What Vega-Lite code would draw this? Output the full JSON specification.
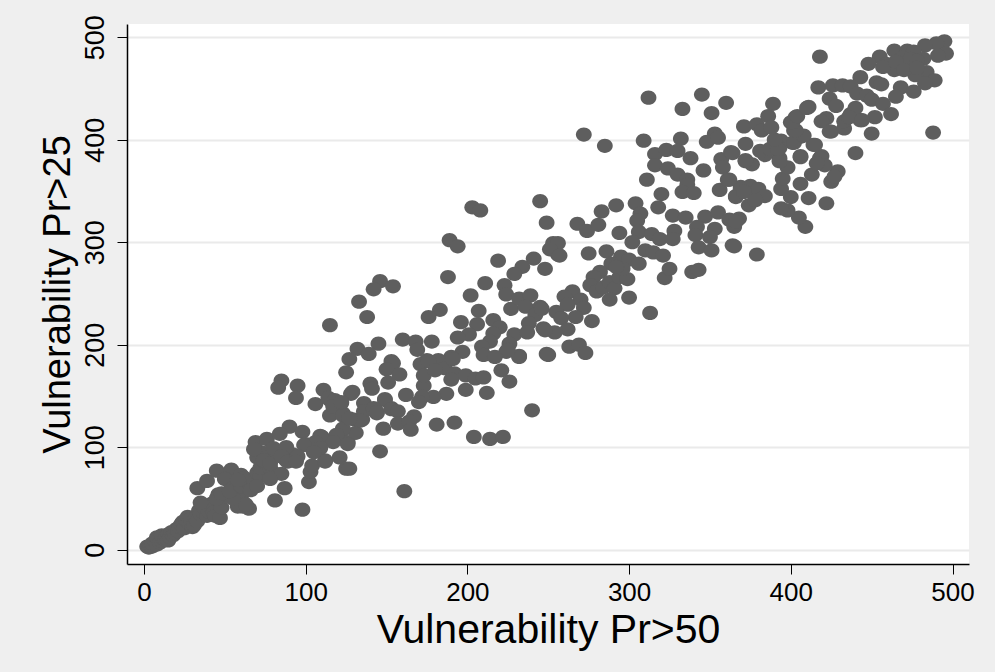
{"$schema":"https://vega.github.io/schema/vega-lite/v6.json","autosize":{"type":"none"},"width":842,"height":540,"padding":{"left":127,"top":24,"right":26,"bottom":108},"background":"#efefef","view":{"fill":"#ffffff","stroke":null},"config":{"font":"Liberation Sans"},
"data":{"values":[
{"x":2,"y":3},{"x":3,"y":2},{"x":4,"y":4},{"x":5,"y":3},{"x":6,"y":5},{"x":5,"y":6},{"x":7,"y":8},{"x":8,"y":5},{"x":9,"y":10},{"x":8,"y":12},{"x":10,"y":7},{"x":11,"y":9},{"x":12,"y":11},{"x":11,"y":14},{"x":13,"y":10},{"x":14,"y":13},{"x":15,"y":15},{"x":15,"y":9},{"x":16,"y":12},{"x":17,"y":17},{"x":18,"y":14},{"x":19,"y":16},{"x":20,"y":20},{"x":21,"y":18},{"x":22,"y":22},{"x":23,"y":25},{"x":24,"y":27},{"x":25,"y":21},{"x":26,"y":29},{"x":27,"y":32},{"x":28,"y":26},{"x":29,"y":30},{"x":30,"y":22},{"x":31,"y":24},{"x":32,"y":31},{"x":33,"y":28},{"x":34,"y":38},{"x":35,"y":35},{"x":36,"y":44},{"x":37,"y":36},{"x":38,"y":40},{"x":39,"y":33},{"x":40,"y":37},{"x":41,"y":42},{"x":42,"y":45},{"x":43,"y":36},{"x":44,"y":33},{"x":47,"y":31},{"x":48,"y":41},{"x":50,"y":52},{"x":46,"y":54},{"x":47,"y":53},{"x":33,"y":60},{"x":39,"y":67},{"x":45,"y":77},{"x":54,"y":78},{"x":35,"y":46},{"x":50,"y":69},{"x":60,"y":73},{"x":61,"y":42},{"x":55,"y":60},{"x":57,"y":55},{"x":60,"y":50},{"x":62,"y":45},{"x":58,"y":42},{"x":65,"y":40},{"x":63,"y":44},{"x":55,"y":50},{"x":45,"y":50},{"x":48,"y":55},{"x":53,"y":57},{"x":60,"y":62},{"x":65,"y":65},{"x":62,"y":70},{"x":68,"y":68},{"x":70,"y":75},{"x":72,"y":72},{"x":66,"y":58},{"x":70,"y":62},{"x":58,"y":68},{"x":72,"y":80},{"x":75,"y":85},{"x":78,"y":80},{"x":80,"y":75},{"x":85,"y":74},{"x":78,"y":69},{"x":76,"y":90},{"x":73,"y":95},{"x":70,"y":90},{"x":88,"y":92},{"x":92,"y":93},{"x":81,"y":48},{"x":87,"y":60},{"x":98,"y":39},{"x":102,"y":66},{"x":103,"y":76},{"x":104,"y":82},
{"x":69,"y":105},{"x":76,"y":108},{"x":68,"y":98},{"x":80,"y":99},{"x":88,"y":100},{"x":90,"y":120},{"x":84,"y":113},{"x":98,"y":115},{"x":88,"y":87},{"x":94,"y":88},{"x":100,"y":103},{"x":110,"y":110},{"x":107,"y":99},{"x":112,"y":87},{"x":121,"y":90},{"x":125,"y":79},{"x":117,"y":107},{"x":123,"y":117},{"x":126,"y":105},{"x":106,"y":142},{"x":111,"y":156},{"x":115,"y":146},{"x":119,"y":143},{"x":115,"y":131},{"x":123,"y":133},{"x":128,"y":152},{"x":85,"y":165},{"x":83,"y":158},{"x":95,"y":160},{"x":94,"y":148},{"x":114,"y":148},{"x":118,"y":146},{"x":122,"y":143},{"x":117,"y":140},{"x":123,"y":131},{"x":130,"y":127},{"x":135,"y":127},{"x":136,"y":143},{"x":143,"y":137},{"x":149,"y":146},{"x":153,"y":138},{"x":144,"y":133},{"x":148,"y":118},{"x":131,"y":114},{"x":123,"y":118},{"x":119,"y":112},{"x":117,"y":105},{"x":126,"y":103},{"x":109,"y":111},{"x":106,"y":105},{"x":109,"y":99},{"x":146,"y":96},{"x":112,"y":86},{"x":127,"y":79},{"x":99,"y":102},{"x":74,"y":87},{"x":78,"y":84},{"x":85,"y":91},{"x":89,"y":86},{"x":95,"y":91},{"x":105,"y":95},{"x":94,"y":86},
{"x":203,"y":334},{"x":208,"y":331},{"x":245,"y":340},{"x":249,"y":319},{"x":189,"y":302},{"x":194,"y":296},{"x":219,"y":282},{"x":241,"y":284},{"x":234,"y":276},{"x":229,"y":269},{"x":248,"y":274},{"x":188,"y":266},{"x":211,"y":260},{"x":223,"y":258},{"x":224,"y":249},{"x":146,"y":262},{"x":142,"y":254},{"x":154,"y":257},{"x":133,"y":242},{"x":138,"y":227},{"x":115,"y":219},{"x":202,"y":248},{"x":183,"y":234},{"x":176,"y":227},{"x":207,"y":233},{"x":196,"y":222},{"x":206,"y":220},{"x":216,"y":224},{"x":220,"y":217},{"x":227,"y":235},{"x":232,"y":245},{"x":239,"y":248},{"x":236,"y":237},{"x":245,"y":237},{"x":242,"y":229},{"x":238,"y":221},{"x":247,"y":216},{"x":229,"y":210},{"x":237,"y":212},{"x":216,"y":211},{"x":214,"y":203},{"x":201,"y":210},{"x":194,"y":207},{"x":209,"y":198},{"x":226,"y":201},{"x":224,"y":193},{"x":145,"y":201},{"x":132,"y":196},{"x":139,"y":191},{"x":160,"y":205},{"x":168,"y":203},{"x":169,"y":195},{"x":178,"y":203},{"x":197,"y":193},{"x":190,"y":188},{"x":175,"y":185},{"x":182,"y":185},{"x":153,"y":184},{"x":127,"y":186},{"x":232,"y":189},{"x":249,"y":191},{"x":210,"y":190},{"x":217,"y":188},
{"x":312,"y":441},{"x":333,"y":430},{"x":345,"y":444},{"x":351,"y":426},{"x":360,"y":436},{"x":371,"y":413},{"x":379,"y":415},{"x":272,"y":405},{"x":285,"y":394},{"x":309,"y":399},{"x":332,"y":401},{"x":353,"y":406},{"x":348,"y":398},{"x":355,"y":402},{"x":372,"y":396},{"x":316,"y":386},{"x":323,"y":390},{"x":330,"y":389},{"x":338,"y":382},{"x":316,"y":375},{"x":324,"y":372},{"x":330,"y":366},{"x":336,"y":361},{"x":336,"y":356},{"x":333,"y":349},{"x":340,"y":348},{"x":346,"y":370},{"x":357,"y":381},{"x":363,"y":388},{"x":358,"y":373},{"x":372,"y":379},{"x":376,"y":376},{"x":311,"y":361},{"x":320,"y":347},{"x":318,"y":334},{"x":304,"y":338},{"x":292,"y":336},{"x":283,"y":330},{"x":307,"y":328},{"x":305,"y":321},{"x":268,"y":318},{"x":274,"y":311},{"x":281,"y":317},{"x":294,"y":309},{"x":306,"y":310},{"x":314,"y":308},{"x":319,"y":303},{"x":328,"y":311},{"x":327,"y":303},{"x":302,"y":300},{"x":310,"y":292},{"x":315,"y":290},{"x":321,"y":287},{"x":295,"y":286},{"x":286,"y":291},{"x":275,"y":289},{"x":253,"y":299},{"x":256,"y":288},{"x":327,"y":326},{"x":335,"y":324},{"x":347,"y":325},{"x":355,"y":329},{"x":368,"y":323},{"x":362,"y":322},{"x":365,"y":315},{"x":342,"y":315},{"x":341,"y":307},{"x":353,"y":313},{"x":350,"y":305},{"x":343,"y":295},{"x":351,"y":292},{"x":364,"y":297},{"x":379,"y":288},{"x":356,"y":351},{"x":361,"y":361},{"x":366,"y":345},{"x":369,"y":354},{"x":375,"y":355},{"x":374,"y":336},{"x":379,"y":347},
{"x":418,"y":481},{"x":488,"y":407},{"x":450,"y":406},{"x":440,"y":387},{"x":495,"y":496},{"x":490,"y":494},{"x":483,"y":492},{"x":496,"y":484},{"x":491,"y":482},{"x":464,"y":487},{"x":472,"y":487},{"x":476,"y":486},{"x":455,"y":481},{"x":448,"y":474},{"x":459,"y":474},{"x":464,"y":468},{"x":457,"y":471},{"x":473,"y":471},{"x":482,"y":479},{"x":484,"y":466},{"x":477,"y":463},{"x":489,"y":458},{"x":483,"y":455},{"x":469,"y":480},{"x":474,"y":479},{"x":478,"y":477},{"x":465,"y":476},{"x":470,"y":468},{"x":478,"y":470},{"x":443,"y":461},{"x":453,"y":456},{"x":456,"y":454},{"x":468,"y":451},{"x":465,"y":442},{"x":476,"y":447},{"x":417,"y":451},{"x":426,"y":453},{"x":432,"y":453},{"x":437,"y":452},{"x":441,"y":445},{"x":447,"y":443},{"x":450,"y":439},{"x":424,"y":440},{"x":428,"y":433},{"x":411,"y":432},{"x":457,"y":435},{"x":462,"y":425},{"x":452,"y":422},{"x":443,"y":419},{"x":403,"y":422},{"x":400,"y":417},{"x":402,"y":409},{"x":406,"y":403},{"x":401,"y":397},{"x":414,"y":395},{"x":422,"y":421},{"x":419,"y":418},{"x":425,"y":408},{"x":433,"y":411},{"x":437,"y":425},{"x":433,"y":418},{"x":440,"y":431},{"x":406,"y":384},{"x":419,"y":384},{"x":394,"y":399},{"x":393,"y":392},{"x":393,"y":382},
{"x":125,"y":173},{"x":154,"y":182},{"x":150,"y":176},{"x":158,"y":171},{"x":151,"y":163},{"x":140,"y":162},{"x":141,"y":157},{"x":129,"y":154},{"x":162,"y":151},{"x":173,"y":160},{"x":171,"y":181},{"x":176,"y":184},{"x":186,"y":177},{"x":173,"y":170},{"x":180,"y":175},{"x":191,"y":186},{"x":192,"y":172},{"x":190,"y":166},{"x":199,"y":170},{"x":205,"y":167},{"x":210,"y":168},{"x":199,"y":156},{"x":187,"y":152},{"x":179,"y":149},{"x":172,"y":149},{"x":170,"y":144},{"x":212,"y":153},{"x":226,"y":164},{"x":221,"y":175},{"x":232,"y":188},{"x":225,"y":195},{"x":240,"y":136},{"x":192,"y":124},{"x":181,"y":122},{"x":204,"y":110},{"x":214,"y":108},{"x":222,"y":110},{"x":161,"y":57},{"x":149,"y":147},{"x":136,"y":135},{"x":142,"y":138},{"x":144,"y":134},{"x":153,"y":137},{"x":157,"y":135},{"x":167,"y":130},{"x":157,"y":123},{"x":164,"y":125},{"x":165,"y":117},{"x":134,"y":126},{"x":127,"y":128},{"x":122,"y":144},
{"x":256,"y":299},{"x":251,"y":293},{"x":257,"y":287},{"x":300,"y":283},{"x":306,"y":279},{"x":289,"y":279},{"x":282,"y":271},{"x":278,"y":266},{"x":276,"y":258},{"x":280,"y":252},{"x":284,"y":256},{"x":288,"y":261},{"x":291,"y":255},{"x":294,"y":266},{"x":299,"y":264},{"x":296,"y":274},{"x":292,"y":276},{"x":288,"y":244},{"x":300,"y":246},{"x":313,"y":231},{"x":322,"y":265},{"x":325,"y":274},{"x":339,"y":271},{"x":343,"y":273},{"x":265,"y":252},{"x":260,"y":247},{"x":270,"y":244},{"x":272,"y":236},{"x":262,"y":239},{"x":267,"y":227},{"x":277,"y":223},{"x":255,"y":232},{"x":258,"y":226},{"x":246,"y":235},{"x":262,"y":215},{"x":254,"y":212},{"x":248,"y":214},{"x":263,"y":198},{"x":269,"y":200},{"x":273,"y":192},{"x":250,"y":190},
{"x":365,"y":296},{"x":409,"y":315},{"x":405,"y":324},{"x":398,"y":331},{"x":394,"y":333},{"x":422,"y":338},{"x":411,"y":343},{"x":400,"y":344},{"x":394,"y":352},{"x":406,"y":357},{"x":395,"y":362},{"x":398,"y":373},{"x":393,"y":379},{"x":406,"y":383},{"x":413,"y":366},{"x":425,"y":359},{"x":429,"y":369},{"x":427,"y":364},{"x":418,"y":382},{"x":421,"y":375},{"x":416,"y":377},{"x":384,"y":385},{"x":381,"y":389},{"x":387,"y":391},{"x":392,"y":391},{"x":390,"y":400},{"x":364,"y":387},{"x":372,"y":380},{"x":415,"y":395},{"x":402,"y":397},{"x":408,"y":404},{"x":403,"y":409},{"x":401,"y":417},{"x":404,"y":423},{"x":410,"y":431},{"x":389,"y":435},{"x":386,"y":423},{"x":382,"y":409},{"x":388,"y":412},{"x":424,"y":408},{"x":436,"y":422},{"x":444,"y":419},{"x":366,"y":320},{"x":369,"y":352},{"x":380,"y":352},{"x":384,"y":345},{"x":366,"y":344},{"x":371,"y":349},{"x":378,"y":341},{"x":362,"y":361}
]},
"mark":{"type":"point","filled":true,"opacity":1,"color":"#5e5e5e","size":250,"shape":"M-1,0A1,0.9 0 1,0 1,0A1,0.9 0 1,0 -1,0Z"},
"encoding":{
"x":{"field":"x","type":"quantitative","scale":{"domain":[-10.5,510.2],"nice":false,"zero":false},"axis":{"values":[0,100,200,300,400,500],"grid":false,"domainColor":"#000000","domainWidth":1.5,"tickColor":"#000000","tickSize":10,"tickWidth":1,"labelFontSize":26,"labelColor":"#000000","labelPadding":5,"title":"Vulnerability Pr>50","titleFontSize":41,"titleFontWeight":"normal","titleColor":"#000000","titlePadding":5,"labelFlush":false}},
"y":{"field":"y","type":"quantitative","scale":{"domain":[-14,512.9],"nice":false,"zero":false},"axis":{"values":[0,100,200,300,400,500],"grid":true,"gridColor":"#eaeaea","gridWidth":2,"domainColor":"#000000","domainWidth":1.5,"tickColor":"#000000","tickSize":10,"tickWidth":1,"labelFontSize":27,"labelColor":"#000000","labelAngle":-90,"labelAlign":"center","labelBaseline":"bottom","labelPadding":8,"title":"Vulnerability Pr>25","titleFontSize":38,"titleFontWeight":"normal","titleColor":"#000000","titlePadding":4}}
}}
